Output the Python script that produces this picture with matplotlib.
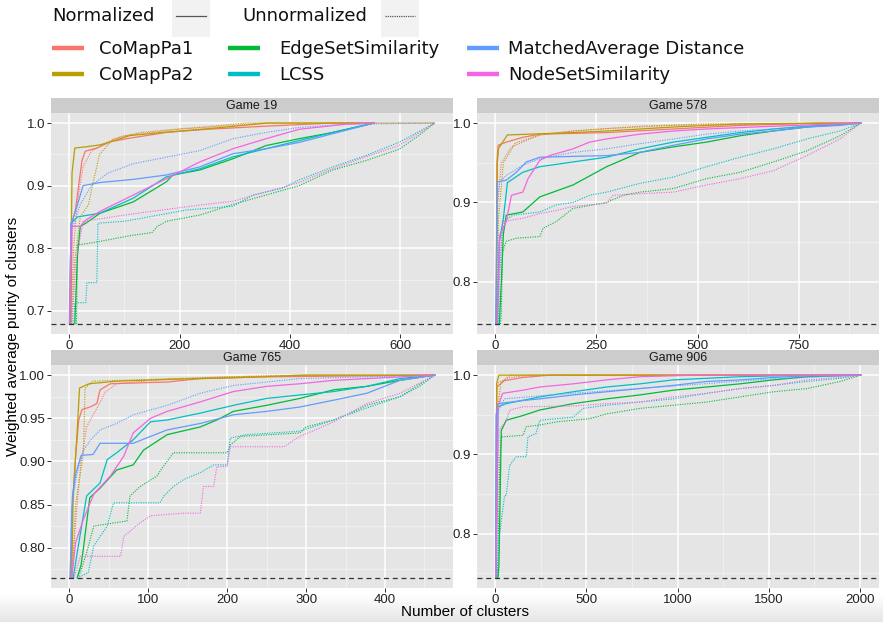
import matplotlib
matplotlib.use('Agg')
import matplotlib.pyplot as plt
from matplotlib.patches import Rectangle
from matplotlib.lines import Line2D
import numpy as np

W, H = 883, 622

methods = ['CoMapPa1', 'CoMapPa2', 'EdgeSetSimilarity', 'LCSS',
           'MatchedAverage Distance', 'NodeSetSimilarity']
colors = ['#F8766D', '#B79F00', '#00BA38', '#00BFC4', '#619CFF', '#F564E3']
games = ['Game 19', 'Game 578', 'Game 765', 'Game 906']
baselines = [0.679, 0.747, 0.765, 0.744]
x_breaks = [[0, 200, 400, 600], [0, 250, 500, 750],
            [0, 100, 200, 300, 400], [0, 500, 1000, 1500, 2000]]
y_breaks = [[0.7, 0.8, 0.9, 1.0], [0.8, 0.9, 1.0],
            [0.80, 0.85, 0.90, 0.95, 1.00], [0.8, 0.9, 1.0]]
y_fmt = ['%.1f', '%.1f', '%.2f', '%.1f']

# (x, y) per method
g19_norm = {
    'CoMapPa1': ([3, 5, 11, 17, 23, 29, 50, 74, 104, 176, 249, 357, 478, 553],
                 [0.679, 0.84, 0.86, 0.9, 0.94, 0.955, 0.96, 0.97, 0.975, 0.985, 0.99, 0.995, 1.0, 1.0]),
    'CoMapPa2': ([2, 5, 10, 30, 55, 75, 110, 170, 240, 300, 360, 553],
                 [0.679, 0.92, 0.96, 0.962, 0.965, 0.97, 0.98, 0.985, 0.99, 0.995, 1.0, 1.0]),
    'EdgeSetSimilarity': ([10, 15, 20, 30, 56, 116, 176, 188, 237, 297, 357, 417, 478, 553],
                          [0.679, 0.79, 0.835, 0.84, 0.856, 0.874, 0.906, 0.917, 0.925, 0.943, 0.964, 0.975, 0.985, 1.0]),
    'LCSS': ([1, 3, 15, 56, 116, 176, 237, 297, 357, 417, 478, 553],
             [0.679, 0.84, 0.85, 0.856, 0.88, 0.914, 0.927, 0.946, 0.959, 0.972, 0.985, 1.0]),
    'MatchedAverage Distance': ([0, 2, 4, 15, 25, 56, 116, 176, 237, 297, 357, 417, 478, 553],
                                [0.679, 0.78, 0.84, 0.87, 0.9, 0.905, 0.91, 0.917, 0.93, 0.951, 0.959, 0.969, 0.983, 1.0]),
    'NodeSetSimilarity': ([1, 3, 20, 30, 56, 116, 176, 237, 297, 357, 417, 500, 553],
                          [0.679, 0.835, 0.835, 0.845, 0.859, 0.885, 0.911, 0.938, 0.959, 0.975, 0.99, 0.998, 1.0]),
}
g19_unnorm = {
    'CoMapPa1': ([3, 8, 14, 25, 40, 70, 100, 200, 280, 350, 663],
                 [0.679, 0.8, 0.87, 0.93, 0.955, 0.97, 0.98, 0.99, 0.995, 1.0, 1.0]),
    'CoMapPa2': ([4, 10, 20, 35, 42, 55, 80, 130, 190, 260, 320, 663],
                 [0.679, 0.78, 0.85, 0.87, 0.9, 0.95, 0.975, 0.985, 0.99, 0.995, 1.0, 1.0]),
    'EdgeSetSimilarity': ([13, 15, 50, 110, 150, 160, 176, 237, 297, 357, 417, 478, 538, 598, 634, 663],
                          [0.679, 0.805, 0.81, 0.82, 0.825, 0.835, 0.843, 0.853, 0.87, 0.885, 0.9, 0.925, 0.94, 0.958, 0.98, 1.0]),
    'LCSS': ([8, 10, 30, 32, 50, 52, 100, 212, 297, 333, 387, 417, 478, 538, 598, 663],
             [0.679, 0.713, 0.713, 0.745, 0.745, 0.84, 0.843, 0.861, 0.867, 0.885, 0.896, 0.909, 0.93, 0.948, 0.969, 1.0]),
    'MatchedAverage Distance': ([1, 5, 20, 40, 70, 116, 237, 297, 357, 417, 500, 663],
                                [0.679, 0.83, 0.87, 0.9, 0.92, 0.935, 0.956, 0.975, 0.985, 0.993, 0.998, 1.0]),
    'NodeSetSimilarity': ([5, 12, 25, 116, 237, 297, 357, 417, 478, 538, 598, 663],
                          [0.679, 0.78, 0.843, 0.855, 0.869, 0.875, 0.89, 0.905, 0.927, 0.946, 0.964, 1.0]),
}

g578_norm = {
    'CoMapPa1': ([2, 4, 7, 27, 68, 110, 275, 440, 605, 800, 903],
                 [0.747, 0.95, 0.972, 0.976, 0.982, 0.986, 0.988, 0.9925, 0.997, 1.0, 1.0]),
    'CoMapPa2': ([3, 5, 8, 30, 192, 275, 440, 605, 903],
                 [0.747, 0.95, 0.968, 0.985, 0.988, 0.99, 0.995, 0.999, 1.0]),
    'EdgeSetSimilarity': ([10, 15, 20, 27, 68, 110, 192, 275, 357, 440, 522, 605, 687, 770, 903],
                          [0.747, 0.8, 0.86, 0.884, 0.888, 0.907, 0.922, 0.945, 0.963, 0.97, 0.976, 0.984, 0.99, 0.995, 1.0]),
    'LCSS': ([5, 10, 20, 30, 68, 110, 192, 275, 357, 440, 522, 605, 687, 770, 903],
             [0.747, 0.85, 0.88, 0.925, 0.938, 0.945, 0.951, 0.957, 0.9675, 0.976, 0.982, 0.988, 0.9925, 0.996, 1.0]),
    'MatchedAverage Distance': ([1, 5, 27, 52, 77, 110, 192, 275, 357, 440, 522, 605, 687, 770, 852, 903],
                                [0.747, 0.926, 0.928, 0.938, 0.951, 0.957, 0.958, 0.959, 0.963, 0.972, 0.98, 0.986, 0.99, 0.995, 0.997, 1.0]),
    'NodeSetSimilarity': ([5, 11, 27, 40, 68, 81, 110, 134, 192, 233, 275, 357, 440, 522, 687, 903],
                          [0.747, 0.859, 0.876, 0.909, 0.913, 0.93, 0.953, 0.959, 0.9675, 0.976, 0.98, 0.986, 0.99, 0.9925, 0.996, 1.0]),
}
g578_unnorm = {
    'CoMapPa1': ([3, 6, 15, 40, 110, 192, 275, 440, 903],
                 [0.747, 0.9, 0.95, 0.97, 0.985, 0.99, 0.993, 0.997, 1.0]),
    'CoMapPa2': ([4, 8, 20, 50, 110, 192, 275, 357, 522, 903],
                 [0.747, 0.88, 0.95, 0.975, 0.985, 0.99, 0.993, 0.996, 0.999, 1.0]),
    'EdgeSetSimilarity': ([13, 15, 18, 27, 52, 110, 118, 151, 192, 275, 316, 357, 440, 522, 605, 687, 770, 852, 903],
                          [0.747, 0.76, 0.838, 0.851, 0.855, 0.857, 0.8675, 0.876, 0.8925, 0.9, 0.909, 0.913, 0.9175, 0.93, 0.938, 0.951, 0.965, 0.984, 1.0]),
    'LCSS': ([8, 10, 19, 44, 110, 151, 192, 233, 275, 357, 440, 522, 605, 687, 770, 852, 903],
             [0.747, 0.8, 0.876, 0.884, 0.888, 0.897, 0.9, 0.909, 0.913, 0.924, 0.932, 0.945, 0.957, 0.9675, 0.98, 0.99, 1.0]),
    'MatchedAverage Distance': ([2, 5, 11, 27, 68, 110, 192, 275, 357, 440, 522, 605, 687, 770, 903],
                                [0.747, 0.9, 0.926, 0.934, 0.947, 0.955, 0.963, 0.9675, 0.974, 0.98, 0.986, 0.99, 0.9925, 0.996, 1.0]),
    'NodeSetSimilarity': ([5, 10, 19, 68, 110, 151, 192, 275, 291, 357, 440, 522, 605, 687, 770, 852, 903],
                          [0.747, 0.82, 0.876, 0.88, 0.886, 0.89, 0.895, 0.899, 0.909, 0.911, 0.913, 0.922, 0.93, 0.94, 0.959, 0.98, 1.0]),
}

g765_norm = {
    'CoMapPa1': ([2, 4, 8, 12, 16, 26, 35, 39, 52, 124, 166, 250, 463],
                 [0.765, 0.848, 0.906, 0.948, 0.96, 0.963, 0.967, 0.983, 0.99, 0.992, 0.996, 0.998, 1.0]),
    'CoMapPa2': ([3, 5, 10, 13, 25, 60, 124, 208, 300, 463],
                 [0.765, 0.86, 0.935, 0.985, 0.99, 0.993, 0.995, 0.997, 1.0, 1.0]),
    'EdgeSetSimilarity': ([10, 15, 18, 26, 39, 60, 81, 94, 124, 166, 187, 208, 250, 292, 335, 377, 419, 463],
                          [0.765, 0.78, 0.8, 0.858, 0.869, 0.89, 0.896, 0.913, 0.931, 0.94, 0.948, 0.958, 0.965, 0.973, 0.983, 0.987, 0.994, 1.0]),
    'LCSS': ([5, 10, 22, 39, 48, 60, 81, 103, 124, 166, 208, 250, 292, 335, 377, 419, 463],
             [0.765, 0.794, 0.86, 0.875, 0.902, 0.91, 0.925, 0.946, 0.948, 0.956, 0.965, 0.973, 0.977, 0.981, 0.987, 0.996, 1.0]),
    'MatchedAverage Distance': ([1, 4, 8, 15, 30, 39, 81, 103, 124, 166, 208, 250, 292, 335, 377, 419, 463],
                                [0.765, 0.86, 0.885, 0.907, 0.908, 0.921, 0.921, 0.929, 0.9365, 0.944, 0.954, 0.958, 0.963, 0.971, 0.979, 0.994, 1.0]),
    'NodeSetSimilarity': ([3, 8, 18, 31, 52, 69, 81, 103, 124, 166, 208, 250, 292, 335, 377, 463],
                          [0.765, 0.806, 0.833, 0.862, 0.883, 0.906, 0.933, 0.95, 0.958, 0.969, 0.981, 0.987, 0.99, 0.994, 0.996, 1.0]),
}
g765_unnorm = {
    'CoMapPa1': ([3, 8, 15, 22, 40, 45, 60, 120, 200, 300, 463],
                 [0.765, 0.83, 0.9, 0.94, 0.97, 0.98, 0.99, 0.995, 0.998, 1.0, 1.0]),
    'CoMapPa2': ([4, 8, 18, 20, 30, 100, 200, 300, 463],
                 [0.765, 0.85, 0.91, 0.985, 0.993, 0.995, 0.998, 1.0, 1.0]),
    'EdgeSetSimilarity': ([10, 14, 22, 31, 73, 77, 90, 111, 119, 132, 200, 204, 217, 292, 300, 335, 356, 377, 419, 440, 463],
                          [0.765, 0.771, 0.794, 0.825, 0.831, 0.86, 0.871, 0.883, 0.894, 0.91, 0.91, 0.919, 0.929, 0.933, 0.94, 0.948, 0.956, 0.965, 0.975, 0.987, 1.0]),
    'LCSS': ([10, 24, 31, 48, 56, 115, 120, 132, 145, 166, 183, 200, 204, 224, 292, 335, 377, 419, 444, 463],
             [0.765, 0.771, 0.802, 0.825, 0.852, 0.852, 0.86, 0.871, 0.879, 0.887, 0.896, 0.896, 0.927, 0.931, 0.935, 0.948, 0.962, 0.975, 0.987, 1.0]),
    'MatchedAverage Distance': ([1, 3, 10, 18, 27, 39, 60, 81, 124, 166, 208, 250, 292, 463],
                                [0.765, 0.848, 0.887, 0.913, 0.925, 0.9365, 0.944, 0.954, 0.965, 0.979, 0.988, 0.992, 0.996, 1.0]),
    'NodeSetSimilarity': ([6, 14, 65, 69, 90, 103, 145, 166, 170, 183, 187, 200, 204, 272, 292, 313, 335, 377, 419, 463],
                          [0.765, 0.79, 0.79, 0.813, 0.829, 0.837, 0.84, 0.84, 0.871, 0.871, 0.894, 0.894, 0.917, 0.917, 0.929, 0.937, 0.946, 0.967, 0.979, 1.0]),
}

g906_norm = {
    'CoMapPa1': ([2, 8, 50, 150, 300, 2005],
                 [0.744, 0.985, 0.993, 0.997, 1.0, 1.0]),
    'CoMapPa2': ([3, 8, 20, 2005],
                 [0.744, 0.99, 1.0, 1.0]),
    'EdgeSetSimilarity': ([15, 20, 33, 60, 152, 244, 427, 610, 793, 976, 1159, 1342, 1526, 1709, 2005],
                          [0.744, 0.76, 0.93, 0.943, 0.949, 0.956, 0.964, 0.97, 0.975, 0.981, 0.985, 0.989, 0.994, 0.998, 1.0]),
    'LCSS': ([5, 15, 60, 244, 427, 610, 793, 976, 1159, 1342, 1526, 2005],
             [0.744, 0.96, 0.964, 0.9725, 0.979, 0.985, 0.989, 0.994, 0.996, 0.998, 0.999, 1.0]),
    'MatchedAverage Distance': ([2, 5, 15, 152, 244, 427, 610, 793, 976, 1159, 1342, 1526, 1709, 2005],
                                [0.744, 0.95, 0.964, 0.968, 0.97, 0.975, 0.979, 0.983, 0.987, 0.992, 0.994, 0.997, 0.999, 1.0]),
    'NodeSetSimilarity': ([3, 15, 40, 152, 244, 427, 610, 793, 1100, 2005],
                          [0.744, 0.96, 0.977, 0.981, 0.985, 0.989, 0.994, 0.998, 1.0, 1.0]),
}
g906_unnorm = {
    'CoMapPa1': ([3, 10, 80, 200, 2005],
                 [0.744, 0.99, 0.997, 1.0, 1.0]),
    'CoMapPa2': ([5, 10, 30, 80, 2005],
                 [0.744, 0.95, 0.99, 1.0, 1.0]),
    'EdgeSetSimilarity': ([12, 25, 33, 152, 170, 244, 335, 427, 518, 610, 793, 976, 1159, 1342, 1526, 1709, 1892, 2005],
                          [0.744, 0.89, 0.922, 0.924, 0.935, 0.937, 0.941, 0.943, 0.945, 0.951, 0.958, 0.962, 0.966, 0.9725, 0.979, 0.983, 0.992, 1.0]),
    'LCSS': ([10, 24, 51, 60, 79, 115, 170, 179, 223, 244, 427, 482, 610, 793, 976, 1159, 1342, 1526, 1709, 1892, 2005],
             [0.744, 0.8, 0.848, 0.848, 0.886, 0.897, 0.897, 0.922, 0.926, 0.943, 0.947, 0.958, 0.962, 0.966, 0.97, 0.977, 0.983, 0.987, 0.992, 0.996, 1.0]),
    'MatchedAverage Distance': ([2, 5, 50, 300, 600, 900, 1200, 1500, 2005],
                                [0.744, 0.95, 0.97, 0.975, 0.98, 0.985, 0.99, 0.995, 1.0]),
    'NodeSetSimilarity': ([5, 20, 60, 80, 152, 427, 610, 793, 976, 1159, 1342, 1526, 1709, 1892, 2005],
                          [0.744, 0.93, 0.943, 0.956, 0.96, 0.961, 0.964, 0.966, 0.9725, 0.977, 0.983, 0.987, 0.994, 0.997, 1.0]),
}

norm_data = [g19_norm, g578_norm, g765_norm, g906_norm]
unnorm_data = [g19_unnorm, g578_unnorm, g765_unnorm, g906_unnorm]

fig = plt.figure(figsize=(W / 100, H / 100), dpi=100)
fig.patch.set_facecolor('white')

# light shadow at the bottom of the screenshot
grad_ax = fig.add_axes([0, 0, 1, 28 / H], zorder=-5)
g = np.linspace(1.0, 0.90, 40).reshape(-1, 1, 1) * np.ones((1, 2, 3))
grad_ax.imshow(g, aspect='auto', extent=[0, 1, 0, 1])
grad_ax.axis('off')


def rect(l, r, top, bottom):
    return [l / W, 1 - bottom / H, (r - l) / W, (bottom - top) / H]


# panel boxes in pixels: left, right, strip top, strip bottom, panel bottom
boxes = [(51, 453, 98, 113, 334), (477, 879, 98, 113, 334),
         (51, 453, 350, 365, 588), (477, 879, 350, 365, 588)]

for i, (l, r, st, sb, pb) in enumerate(boxes):
    ax = fig.add_axes(rect(l, r, sb, pb))
    ax.set_facecolor('#E5E5E5')
    xs_all = [x for d in (norm_data[i], unnorm_data[i]) for v in d.values() for x in v[0]]
    xmin, xmax = 0, max(xs_all)
    ymin, ymax = baselines[i], 1.0
    dx = (xmax - xmin) * 0.05
    dy = (ymax - ymin) * 0.05
    ax.set_xlim(xmin - dx, xmax + dx)
    ax.set_ylim(ymin - dy, ymax + dy)

    xb = x_breaks[i]
    yb = y_breaks[i]
    sx = xb[1] - xb[0]
    sy = yb[1] - yb[0]
    for m in np.arange(xb[0] - sx / 2, xb[-1] + sx, sx):
        ax.axvline(m, color='#F2F2F2', lw=0.6, zorder=0)
    for m in np.arange(yb[0] - sy / 2, yb[-1] + sy, sy):
        ax.axhline(m, color='#F2F2F2', lw=0.6, zorder=0)
    for v in xb:
        ax.axvline(v, color='white', lw=1.1, zorder=0.5)
    for v in yb:
        ax.axhline(v, color='white', lw=1.1, zorder=0.5)

    for k, m in enumerate(methods):
        x, y = norm_data[i][m]
        ax.plot(x, y, color=colors[k], lw=0.9, zorder=2)
        x, y = unnorm_data[i][m]
        ax.plot(x, y, color=colors[k], lw=0.8, ls=(0, (1, 1.2)), zorder=2)

    ax.axhline(baselines[i], color='#333333', lw=0.9, ls=(0, (4, 3)), zorder=3)

    ax.set_xticks(xb)
    ax.set_yticks(yb)
    ax.set_xticklabels([str(v) for v in xb])
    ax.set_yticklabels([y_fmt[i] % v for v in yb])
    ax.tick_params(axis='both', length=2.6, width=0.7, color='#333333',
                   labelsize=9.5, labelcolor='#222222', pad=1.5)
    for lab in ax.get_xticklabels() + ax.get_yticklabels():
        lab.set_family('Liberation Sans')
    for s in ax.spines.values():
        s.set_visible(False)

    sax = fig.add_axes(rect(l, r, st, sb))
    sax.set_facecolor('#CCCCCC')
    sax.set_xticks([])
    sax.set_yticks([])
    for s in sax.spines.values():
        s.set_visible(False)
    sax.text(0.5, 0.45, games[i], ha='center', va='center', fontsize=9,
             family='Liberation Sans', color='#1A1A1A', transform=sax.transAxes)

fig.text(465 / W, 1 - 612 / H, 'Number of clusters', ha='center', va='center',
         fontsize=11, family='Liberation Sans', color='black')
fig.text(13 / W, 1 - 336 / H, 'Weighted average purity of clusters', ha='center',
         va='center', rotation=90, fontsize=11, family='Liberation Sans', color='black')

# legend: line type
lfont = dict(fontsize=13, family='DejaVu Sans', color='#111111', va='center')
fig.text(52 / W, 1 - 16 / H, 'Normalized', **lfont)
fig.text(242 / W, 1 - 16 / H, 'Unnormalized', **lfont)
for x0, style in [(172, '-'), (381, (0, (1, 0.8)))]:
    fig.add_artist(Rectangle((x0 / W, 1 - 37 / H), 38 / W, 37 / H,
                             transform=fig.transFigure, facecolor='#F2F2F2',
                             edgecolor='none'))
    fig.add_artist(Line2D([(x0 + 4) / W, (x0 + 34) / W], [1 - 16 / H, 1 - 16 / H],
                          transform=fig.transFigure, color='#555555', lw=0.9, ls=style))

# legend: methods
key_x = [52, 52, 228, 228, 467, 467]
text_x = [99, 99, 279, 279, 508, 508]
row_y = [48, 74, 48, 74, 48, 74]
for k, m in enumerate(methods):
    fig.add_artist(Line2D([key_x[k] / W, (key_x[k] + 32) / W],
                          [1 - row_y[k] / H, 1 - row_y[k] / H],
                          transform=fig.transFigure, color=colors[k], lw=3.2,
                          solid_capstyle='butt'))
    fig.text(text_x[k] / W, 1 - (row_y[k] + 1) / H, m, **lfont)

fig.savefig('out.png', dpi=100, facecolor='white')
